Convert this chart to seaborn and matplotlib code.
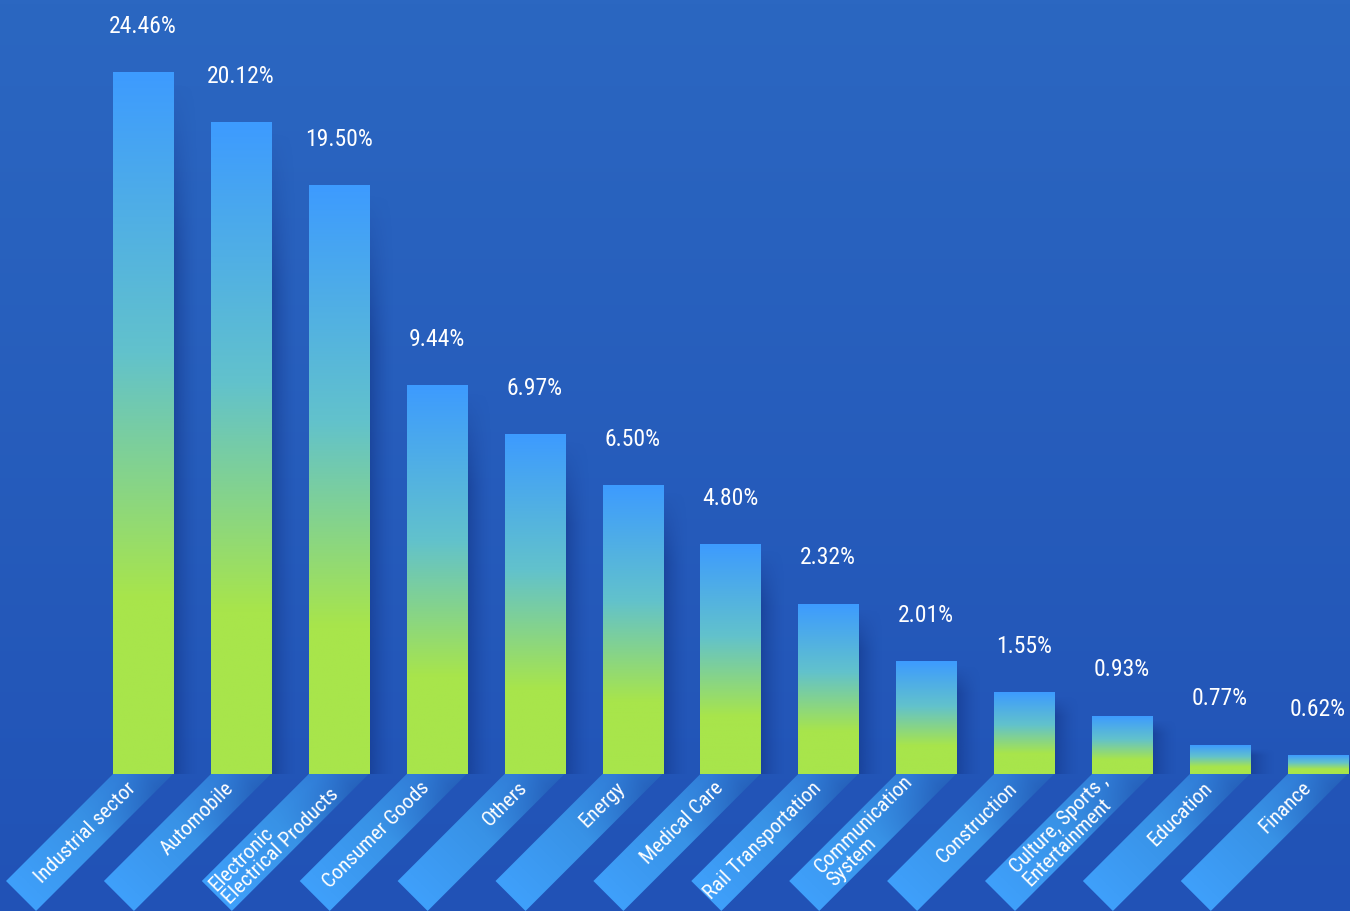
import numpy as np
import pandas as pd
import seaborn as sns
import matplotlib.pyplot as plt
from matplotlib.patches import Polygon

# data
categories = ["Industrial sector", "Automobile", "Electronic\nElectrical Products",
              "Consumer Goods", "Others", "Energy", "Medical Care",
              "Rail Transportation", "Communication\nSystem", "Construction",
              "Culture, Sports ,\nEntertainment", "Education", "Finance"]
shares = [24.46, 20.12, 19.50, 9.44, 6.97, 6.50, 4.80, 2.32, 2.01, 1.55, 0.93, 0.77, 0.62]
# the bars in the picture are not drawn to scale, these are the drawn heights
bar_height = [24.46, 22.72, 20.52, 13.54, 11.83, 10.05, 7.99, 5.93, 3.91, 2.83, 2.02, 1.01, 0.63]

BG_TOP, BG_BOTTOM = "#2b67c1", "#2152b6"
BAR_STOPS = [(0.0, "#3d9bff"), (0.4, "#62c2cc"), (0.75, "#a8e54b"), (1.0, "#a8e54b")]
TAB_TOP, TAB_BOTTOM = "#2f78d4", "#3fa0fb"


def rgb(c):
    return np.array(plt.matplotlib.colors.to_rgb(c))


def ramp(t, stops):
    pos = [s[0] for s in stops]
    cols = np.array([rgb(s[1]) for s in stops])
    return np.stack([np.interp(t, pos, cols[:, k]) for k in range(3)], axis=-1)


sns.set_theme(style="white")
plt.rcParams['font.family'] = ['Roboto Condensed', 'Liberation Sans Narrow', 'Roboto', 'DejaVu Sans']
plt.rcParams['font.stretch'] = 'condensed'

fig = plt.figure(figsize=(13.5, 9.12), dpi=100)
ax = fig.add_axes([0, 0, 1, 1])
df = pd.DataFrame({"category": categories, "height": bar_height})
sns.barplot(data=df, x="category", y="height", width=0.613, color="#3d9bff",
            linewidth=0, ax=ax)
ax.set_xlim(-1.461, 12.329)
ax.set_ylim(-4.78, 27.04)
ax.axis("off")

# background
t = np.linspace(0, 1, 200)[:, None]
bg = ramp(t[:, 0], [(0, BG_TOP), (1, BG_BOTTOM)])[:, None, :]
ax.imshow(bg, extent=(*ax.get_xlim(), *ax.get_ylim()), origin="upper",
          aspect="auto", zorder=0)

to_px = ax.transData.transform
to_data = ax.transData.inverted().transform

for i, p in enumerate(ax.patches):
    x0, w, h = p.get_x(), p.get_width(), p.get_height()
    p.set_facecolor("none")
    (lp, bp), (rp, tp) = to_px((x0, 0)), to_px((x0 + w, h))
    cxp = (lp + rp) / 2

    # shadow on the right of the bar
    sw = 26
    sx = np.linspace(1, 0, 40) ** 1.6
    sy = np.clip(np.linspace(0, 1, 60) * 4, 0, 1)[:, None]
    sh = np.zeros((60, 40, 4))
    sh[..., :3] = rgb("#10307f")
    sh[..., 3] = 0.5 * sx[None, :] * sy
    (sx0, _), (sx1, sy1) = to_data((rp, bp)), to_data((rp + sw, tp - 4))
    ax.imshow(sh, extent=(sx0, sx1, 0, sy1), origin="upper", aspect="auto", zorder=2)

    # gradient bar
    tt = np.linspace(0, 1, 300)
    img = ramp(tt, BAR_STOPS)[:, None, :]
    ax.imshow(img, extent=(x0, x0 + w, 0, h), origin="upper", aspect="auto", zorder=3)

    # slanted tab below the bar
    tl, tr = 107, 137
    pts_px = [(lp, bp), (rp, bp), (rp - tr, bp - tr), (lp - tl, bp - tl)]
    poly = Polygon([to_data(q) for q in pts_px], closed=True, facecolor="none",
                   edgecolor="none", zorder=1)
    ax.add_patch(poly)
    xs = np.linspace(lp - tr, rp, 120)
    ys = np.linspace(bp - tr, bp, 120)
    X, Y = np.meshgrid(xs, ys)
    s = np.clip(((cxp - X) + (bp - Y)) / 2 / 122, 0, 1)
    # darker towards the right edge near the bar
    perp = ((X - cxp) - (Y - bp)) / 2 / ((rp - lp) / 2)
    tab = ramp(s.ravel(), [(0, TAB_TOP), (0.45, "#3892e6"), (1, TAB_BOTTOM)]).reshape(*s.shape, 3)
    shade = np.clip(perp + 0.3, 0, 1) * np.clip(1 - s * 2.2, 0, 1) * 0.4
    tab = tab * (1 - shade[..., None]) + rgb("#13358a") * shade[..., None]
    (ex0, ey0), (ex1, ey1) = to_data((xs[0], ys[0])), to_data((xs[-1], ys[-1]))
    im = ax.imshow(tab, extent=(ex0, ex1, ey0, ey1), origin="lower", aspect="auto", zorder=1)
    im.set_clip_path(poly)

    # category label inside the tab
    ax.text(*to_data((cxp - 10, bp - 10)), categories[i], rotation=45,
            rotation_mode="anchor", ha="right", va="center", multialignment="left",
            color="white", fontsize=15, linespacing=0.95, zorder=5)

    # value label
    ax.annotate(f"{shares[i]:.2f}%", xy=(x0 + w / 2, h), xytext=(0, 34),
                textcoords="offset points", ha="center", va="center",
                color="white", fontsize=17, zorder=5)

fig.savefig("out.png", dpi=100, facecolor=BG_TOP)
